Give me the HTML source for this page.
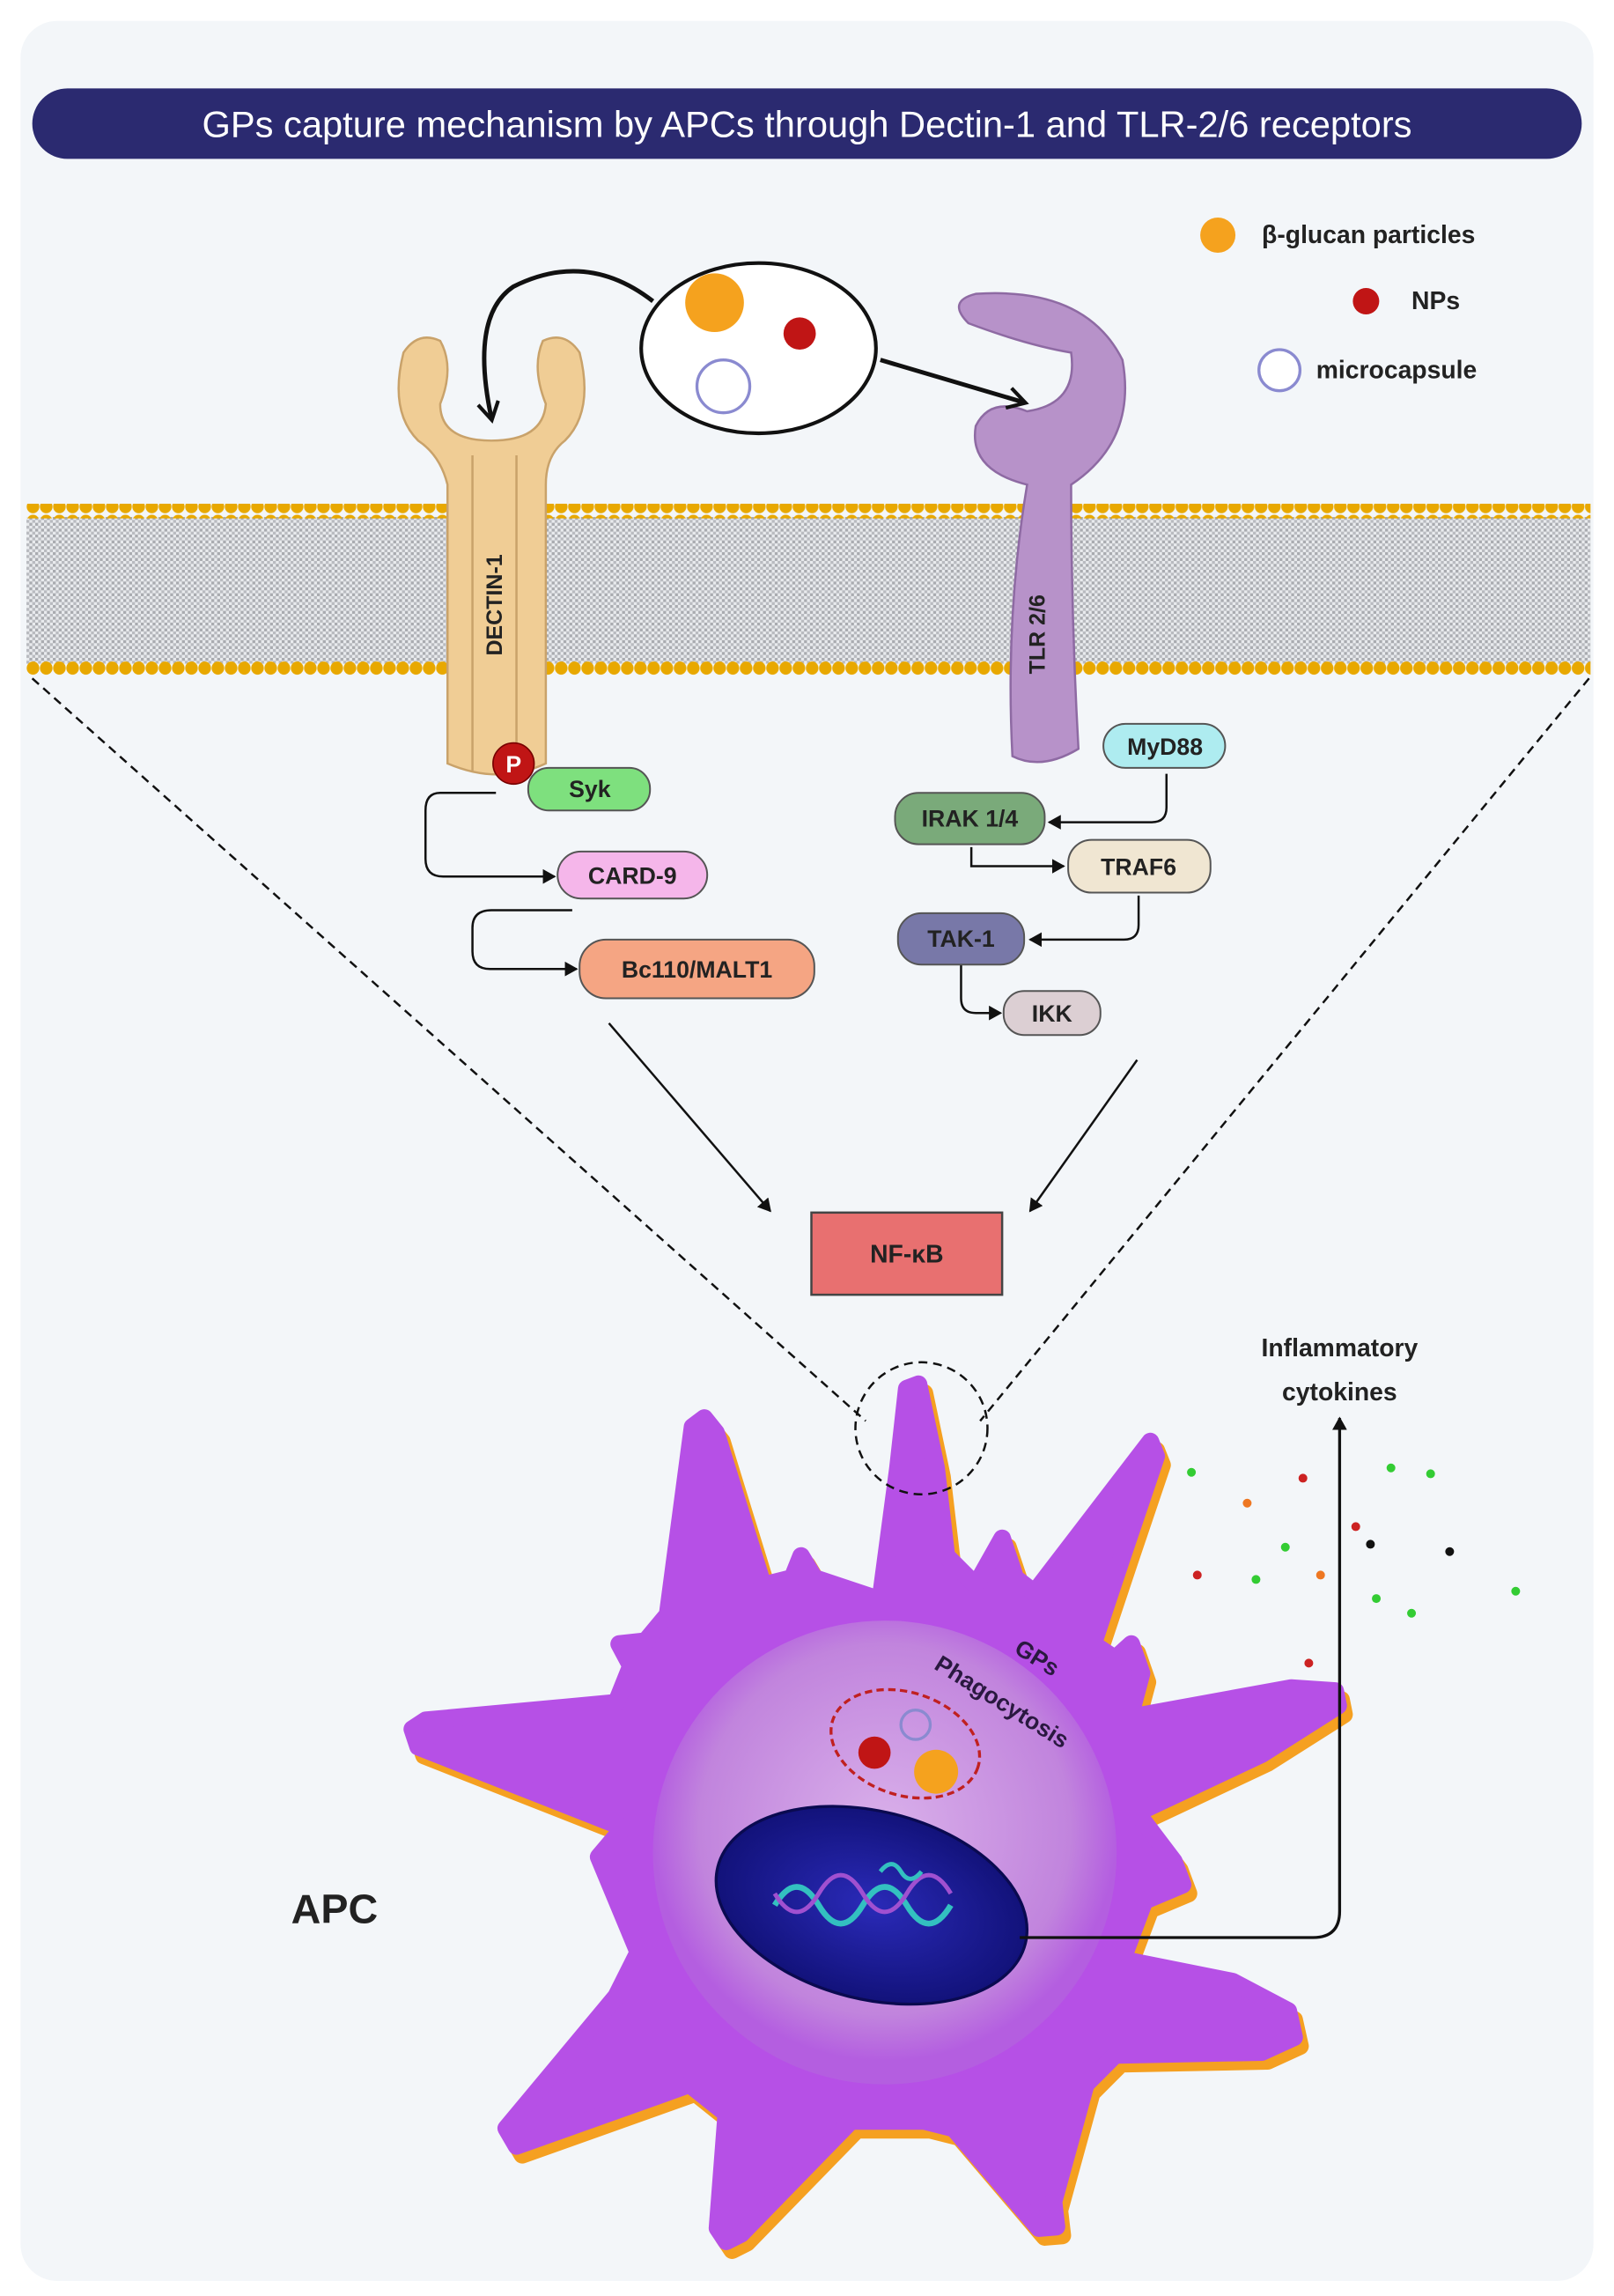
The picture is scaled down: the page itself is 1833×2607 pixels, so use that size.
<!DOCTYPE html>
<html><head><meta charset="utf-8"><style>html,body{margin:0;padding:0;background:#fff}svg{display:block}</style></head>
<body>
<svg width="1833" height="2607" viewBox="0 0 1100 1564" xmlns="http://www.w3.org/2000/svg" font-family="Liberation Sans, sans-serif">
<defs>
<pattern id="mem" width="4" height="4" patternUnits="userSpaceOnUse"><rect width="4" height="4" fill="#e9ebee"/><rect width="2" height="2" fill="#a9abb0"/><rect x="2" y="2" width="2" height="2" fill="#b9bbc0"/></pattern>
<pattern id="dots" width="9" height="10" patternUnits="userSpaceOnUse"><ellipse cx="4.5" cy="5" rx="4.3" ry="4.5" fill="#e8a800"/></pattern>
<marker id="ah" markerWidth="10" markerHeight="10" refX="8" refY="5" orient="auto" markerUnits="userSpaceOnUse"><path d="M0,0 L9,5 L0,10 Z" fill="#111"/></marker>
<marker id="ah2" markerWidth="16" markerHeight="16" refX="12" refY="8" orient="auto" markerUnits="userSpaceOnUse"><path d="M1,1 L13,8 L1,15" fill="none" stroke="#111" stroke-width="2.5"/></marker>
<radialGradient id="inner" cx="0.5" cy="0.45" r="0.5"><stop offset="0" stop-color="#d9b0ea"/><stop offset="0.8" stop-color="#c184dd"/><stop offset="1" stop-color="#b45ee0"/></radialGradient>
<radialGradient id="nuc" cx="0.5" cy="0.5" r="0.5"><stop offset="0" stop-color="#2a2ab8"/><stop offset="1" stop-color="#12127a"/></radialGradient>
</defs>
<rect x="0" y="0" width="1100" height="1564" fill="#fff"/>
<rect x="14" y="14" width="1072" height="1540" rx="25" fill="#f3f6f9"/>
<rect x="22" y="60" width="1056" height="48" rx="24" fill="#2b2a70"/>
<text x="550" y="93" font-size="25" fill="#fff" text-anchor="middle">GPs capture mechanism by APCs through Dectin-1 and TLR-2/6 receptors</text>
<circle cx="830" cy="160" r="12" fill="#f5a21e"/>
<text x="860" y="161" font-size="17" font-weight="bold" fill="#222" dominant-baseline="middle">β-glucan particles</text>
<circle cx="931" cy="205" r="9" fill="#c01515"/>
<text x="962" y="206" font-size="17" font-weight="bold" fill="#222" dominant-baseline="middle">NPs</text>
<circle cx="872" cy="252" r="14" fill="#fff" stroke="#8a8ad0" stroke-width="2"/>
<text x="897" y="253" font-size="17" font-weight="bold" fill="#222" dominant-baseline="middle">microcapsule</text>
<rect x="18" y="352" width="1066" height="100" fill="url(#mem)"/>
<rect x="18" y="343" width="1066" height="10" fill="url(#dots)"/>
<rect x="18" y="450" width="1066" height="10" fill="url(#dots)"/>
<g fill="#f0cd95" stroke="#c9a26a" stroke-width="1.5">
<path d="M305,520 L305,330 Q300,310 285,300 Q265,280 275,240 Q285,225 300,232 Q310,250 300,275 Q300,300 335,300 Q370,300 372,275 Q362,250 370,232 Q385,225 395,240 Q405,280 385,300 Q372,310 372,330 L372,520 Q340,535 305,520 Z"/>
<path d="M322,310 L322,525" fill="none" stroke="#c9a26a"/>
<path d="M352,310 L352,525" fill="none" stroke="#c9a26a"/>
</g>
<text transform="translate(342,412) rotate(-90)" font-size="15" font-weight="bold" fill="#222" text-anchor="middle">DECTIN-1</text>
<path d="M690,515 Q685,420 700,330 Q660,320 665,290 Q675,270 700,280 Q735,275 730,240 Q700,235 660,220 Q645,205 665,200 Q740,195 765,245 Q775,300 730,330 Q730,420 735,510 Q710,525 690,515 Z" fill="#b792c9" stroke="#8e6aa3" stroke-width="1.5"/>
<text transform="translate(712,432) rotate(-90)" font-size="15" font-weight="bold" fill="#222" text-anchor="middle">TLR 2/6</text>
<ellipse cx="517" cy="237" rx="80" ry="58" fill="#fff" stroke="#111" stroke-width="2.5"/>
<circle cx="487" cy="206" r="20" fill="#f5a21e"/>
<circle cx="545" cy="227" r="11" fill="#c01515"/>
<circle cx="493" cy="263" r="18" fill="none" stroke="#8a8ad0" stroke-width="2"/>
<path d="M445,205 Q400,170 350,195 Q320,215 335,285" fill="none" stroke="#111" stroke-width="3" marker-end="url(#ah2)"/>
<path d="M600,245 Q650,260 698,274" fill="none" stroke="#111" stroke-width="3" marker-end="url(#ah2)"/>
<g stroke="#111" stroke-width="1.5" fill="none">
<path d="M338,540 L300,540 Q290,540 290,552 L290,585 Q290,597 302,597 L378,597" marker-end="url(#ah)"/>
<path d="M390,620 L335,620 Q322,620 322,632 L322,648 Q322,660 334,660 L393,660" marker-end="url(#ah)"/>
<path d="M795,527 L795,550 Q795,560 785,560 L715,560" marker-end="url(#ah)"/>
<path d="M662,577 L662,590 L725,590" marker-end="url(#ah)"/>
<path d="M776,610 L776,630 Q776,640 766,640 L702,640" marker-end="url(#ah)"/>
<path d="M655,657 L655,680 Q655,690 665,690 L682,690" marker-end="url(#ah)"/>
<path d="M415,697 L525,825" marker-end="url(#ah)"/>
<path d="M775,722 L702,825" marker-end="url(#ah)"/>
</g>
<circle cx="350" cy="520" r="14" fill="#c01515" stroke="#700" stroke-width="1"/>
<text x="350" y="526" font-size="16" font-weight="bold" fill="#fff" text-anchor="middle">P</text>
<g font-size="16" font-weight="bold" fill="#222" text-anchor="middle" stroke="#555" stroke-width="1.2">
<rect x="360" y="523" width="83" height="29" rx="14" fill="#7ee07e"/>
<rect x="380" y="580" width="102" height="32" rx="16" fill="#f5b6ea"/>
<rect x="395" y="640" width="160" height="40" rx="18" fill="#f5a583"/>
<rect x="752" y="493" width="83" height="30" rx="15" fill="#aeecf0"/>
<rect x="610" y="540" width="102" height="35" rx="16" fill="#7aaa7a"/>
<rect x="728" y="572" width="97" height="36" rx="16" fill="#f0e6d2"/>
<rect x="612" y="622" width="86" height="35" rx="16" fill="#7878a8"/>
<rect x="684" y="675" width="66" height="30" rx="14" fill="#dccfd3"/>
</g>
<g font-size="16" font-weight="bold" fill="#222" text-anchor="middle">
<text x="402" y="543">Syk</text>
<text x="431" y="602">CARD-9</text>
<text x="475" y="666">Bc110/MALT1</text>
<text x="794" y="514">MyD88</text>
<text x="661" y="563">IRAK 1/4</text>
<text x="776" y="596">TRAF6</text>
<text x="655" y="645">TAK-1</text>
<text x="717" y="696">IKK</text>
</g>
<rect x="553" y="826" width="130" height="56" fill="#e87070" stroke="#444" stroke-width="1.5"/>
<text x="618" y="860" font-size="17" font-weight="bold" fill="#222" text-anchor="middle">NF-κB</text>
<g stroke-linejoin="round" stroke-width="12">
<path transform="translate(4,6)" fill="#f5a021" stroke="#f5a021" d="M626,943 L638,1000 L645,1060 L665,1080 L683,1048 L692,1075 L705,1085 L784,982 L788,992 L765,1060 L745,1120 L760,1130 L771,1120 L778,1140 L770,1170 L880,1150 L910,1152 L912,1162 L860,1195 L775,1235 L800,1268 L806,1284 L780,1295 L765,1335 L840,1350 L878,1370 L882,1388 L860,1398 L760,1400 L740,1420 L718,1500 L720,1517 L708,1518 L650,1450 L630,1445 L580,1445 L505,1522 L495,1527 L489,1518 L495,1440 L470,1420 L352,1462 L345,1450 L420,1360 L435,1330 L408,1265 L425,1245 L285,1190 L281,1178 L290,1172 L420,1160 L430,1135 L422,1120 L440,1118 L455,1100 L472,972 L480,966 L488,976 L520,1080 L540,1075 L546,1060 L555,1075 L600,1090 L612,1000 L618,946 Z"/>
<path fill="#b650e6" stroke="#b650e6" d="M626,943 L638,1000 L645,1060 L665,1080 L683,1048 L692,1075 L705,1085 L784,982 L788,992 L765,1060 L745,1120 L760,1130 L771,1120 L778,1140 L770,1170 L880,1150 L910,1152 L912,1162 L860,1195 L775,1235 L800,1268 L806,1284 L780,1295 L765,1335 L840,1350 L878,1370 L882,1388 L860,1398 L760,1400 L740,1420 L718,1500 L720,1517 L708,1518 L650,1450 L630,1445 L580,1445 L505,1522 L495,1527 L489,1518 L495,1440 L470,1420 L352,1462 L345,1450 L420,1360 L435,1330 L408,1265 L425,1245 L285,1190 L281,1178 L290,1172 L420,1160 L430,1135 L422,1120 L440,1118 L455,1100 L472,972 L480,966 L488,976 L520,1080 L540,1075 L546,1060 L555,1075 L600,1090 L612,1000 L618,946 Z"/>
</g>
<circle cx="603" cy="1262" r="158" fill="url(#inner)"/>
<ellipse cx="617" cy="1188" rx="52" ry="35" transform="rotate(18 617 1188)" fill="none" stroke="#c02020" stroke-width="2" stroke-dasharray="5,3"/>
<circle cx="596" cy="1194" r="11" fill="#c01515"/>
<circle cx="638" cy="1207" r="15" fill="#f5a21e"/>
<circle cx="624" cy="1175" r="10" fill="none" stroke="#8a8ad0" stroke-width="2"/>
<text transform="translate(704,1134) rotate(32)" font-size="16" font-weight="bold" fill="#2a1840" text-anchor="middle">GPs</text>
<text transform="translate(680,1164) rotate(32)" font-size="16" font-weight="bold" fill="#2a1840" text-anchor="middle">Phagocytosis</text>
<ellipse cx="594" cy="1298" rx="108" ry="64" transform="rotate(14 594 1298)" fill="url(#nuc)" stroke="#0a0a50" stroke-width="2"/>
<path d="M528,1298 Q543,1273 558,1298 T588,1298 T618,1298 T648,1298" fill="none" stroke="#33c0c0" stroke-width="4"/>
<path d="M528,1290 Q543,1315 558,1290 T588,1290 T618,1290 T648,1290" fill="none" stroke="#a050d0" stroke-width="3"/>
<path d="M600,1275 q8,-10 14,0 t14,0" fill="none" stroke="#33c0c0" stroke-width="3"/>
<g stroke="#111" stroke-width="1.5" stroke-dasharray="6,4" fill="none">
<path d="M22,462 L590,968"/>
<path d="M1083,462 L668,968"/>
<circle cx="628" cy="973" r="45"/>
</g>
<path d="M695,1320 L895,1320 Q913,1320 913,1302 L913,966" fill="none" stroke="#111" stroke-width="2" marker-end="url(#ah)"/>
<text x="913" y="924" font-size="17" font-weight="bold" fill="#222" text-anchor="middle">Inflammatory</text>
<text x="913" y="954" font-size="17" font-weight="bold" fill="#222" text-anchor="middle">cytokines</text>
<g>
<circle cx="812" cy="1003" r="3" fill="#3c3"/><circle cx="888" cy="1007" r="3" fill="#c22"/><circle cx="948" cy="1000" r="3" fill="#3c3"/><circle cx="975" cy="1004" r="3" fill="#3c3"/>
<circle cx="850" cy="1024" r="3" fill="#e72"/><circle cx="924" cy="1040" r="3" fill="#c22"/><circle cx="934" cy="1052" r="3" fill="#111"/><circle cx="988" cy="1057" r="3" fill="#111"/>
<circle cx="876" cy="1054" r="3" fill="#3c3"/><circle cx="816" cy="1073" r="3" fill="#c22"/><circle cx="856" cy="1076" r="3" fill="#3c3"/><circle cx="900" cy="1073" r="3" fill="#e72"/>
<circle cx="938" cy="1089" r="3" fill="#3c3"/><circle cx="962" cy="1099" r="3" fill="#3c3"/><circle cx="1033" cy="1084" r="3" fill="#3c3"/><circle cx="892" cy="1133" r="3" fill="#c22"/>
</g>
<text x="228" y="1310" font-size="28" font-weight="bold" fill="#222" text-anchor="middle">APC</text>
</svg>
</body></html>
